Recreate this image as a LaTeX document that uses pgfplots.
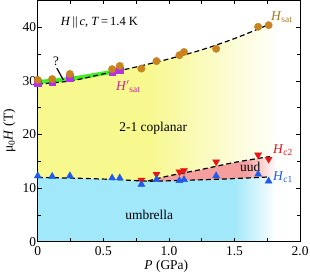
\documentclass[border=0pt]{standalone}
\usepackage{fontspec}
\setmainfont{Liberation Serif}
\usepackage{pgfplots}
\pgfplotsset{compat=1.18}
\definecolor{myyel}{RGB}{247,248,142}
\definecolor{mycyan}{RGB}{160,232,250}
\definecolor{mypink}{RGB}{244,158,158}
\definecolor{myorange}{RGB}{200,130,30}
\definecolor{mymag}{RGB}{180,50,230}
\definecolor{mytxtmag}{RGB}{200,40,150}
\definecolor{myblue}{RGB}{30,90,235}
\definecolor{myred}{RGB}{235,20,20}
\definecolor{mygreen}{RGB}{70,235,40}
\definecolor{mybrown}{RGB}{170,120,30}
\pgfdeclarehorizontalshading{yelfade}{100bp}{color(0bp)=(myyel); color(48bp)=(myyel); color(76bp)=(white); color(100bp)=(white)}
\pgfdeclarehorizontalshading{cyanfade}{100bp}{color(0bp)=(mycyan); color(66bp)=(mycyan); color(75bp)=(white); color(100bp)=(white)}
\pgfdeclarehorizontalshading{pinkfade}{100bp}{color(0bp)=(mypink); color(63bp)=(mypink); color(75bp)=(white); color(100bp)=(white)}
\begin{document}
\begin{tikzpicture}
\begin{axis}[
  scale only axis, width=262bp, height=241bp,
  xmin=0, xmax=2, ymin=0, ymax=45,
  xtick={0,0.5,1,1.5,2}, xticklabels={0,0.5,1.0,1.5,2.0},
  ytick={0,10,20,30,40},
  minor x tick num=1, minor y tick num=1,
  tick align=inside, major tick length=4bp, minor tick length=3.5bp,
  axis line style={line width=1bp},
  every tick/.style={black, line width=0.8bp},
  tick label style={font=\fontsize{13.5}{13.5}\selectfont},
  xticklabel style={inner sep=1.5bp, yshift=-3.5bp},
  yticklabel style={inner sep=1.5bp},
  label style={font=\fontsize{13.5}{13.5}\selectfont},
  xlabel={\textit{P} (GPa)},
  ylabel={μ\textsubscript{0}\textit{H} (T)},
  xlabel style={at={(axis description cs:0.49,-0.103)}, anchor=center},
  ylabel style={at={(axis description cs:-0.108,0.46)}, anchor=center},
  axis on top,
  /pgf/number format/assume math mode=true,
]
% regions
\addplot[draw=none, shade, shading=cyanfade] coordinates {
  (0,0) (0,12.0) (0.3,11.85) (0.6,11.6) (0.85,11.3) (1.1,11.45) (1.36,11.65) (1.6,11.9) (1.82,12.15) (1.82,0)} -- cycle;
\addplot[draw=none, shade, shading=pinkfade] coordinates {
  (0.82,11.3) (1.0,12.3) (1.25,13.5) (1.5,14.8) (1.82,16.1) (1.82,12.15) (1.6,11.9) (1.36,11.65) (1.1,11.45) (0.85,11.3)} -- cycle;
\addplot[draw=none, shade, shading=yelfade] coordinates {
  (0,12.0) (0,29.4) (0.25,30.0) (0.5,31.3) (0.75,32.6) (1.0,34.1) (1.25,35.8) (1.5,37.9) (1.82,41.1)
  (1.82,16.1) (1.5,14.8) (1.25,13.5) (1.0,12.3) (0.82,11.3) (0.6,11.6) (0.3,11.85)} -- cycle;
% green band
\addplot[mygreen, line width=4bp, smooth] coordinates {(0,29.8) (0.25,30.4) (0.5,31.4) (0.62,31.95)};
% dashed lines
\addplot[black, line width=1.2bp, dash pattern=on 5bp off 3bp, smooth] coordinates {
  (0,29.4) (0.25,30.0) (0.5,31.3) (0.75,32.6) (1.0,34.1) (1.25,35.8) (1.5,37.9) (1.77,40.6)};
\addplot[black, line width=1.2bp, dash pattern=on 5bp off 3bp, smooth] coordinates {
  (0,12.0) (0.3,11.85) (0.6,11.6) (0.85,11.3) (1.1,11.45) (1.36,11.65) (1.6,11.9) (1.77,12.1)};
\addplot[black, line width=1.2bp, dash pattern=on 5bp off 3bp, smooth] coordinates {
  (0.84,11.35) (1.0,12.3) (1.25,13.5) (1.5,14.8) (1.77,15.9)};
% H'sat squares
\addplot[only marks, mark=square*, mark size=3.2bp, mymag, mark options={draw=mymag, fill=mymag}] coordinates {
  (0,29.7) (0.11,29.8) (0.245,30.6) (0.567,31.7) (0.625,32.0)};
% Hsat circles
\addplot[only marks, mark=*, mark size=3.7bp, myorange, mark options={draw=myorange, fill=myorange}] coordinates {
  (0,30.2) (0.11,30.35) (0.245,31.3) (0.567,32.2) (0.625,32.8) (0.79,32.3) (0.905,33.7)
  (1.08,34.8) (1.115,35.4) (1.36,36.0) (1.68,40.1) (1.76,40.4)};
% Hc2 down triangles
\addplot[only marks, mark=triangle*, mark size=4bp, myred, mark options={rotate=180, draw=myred, fill=myred}] coordinates {
  (0.79,11.5) (0.905,12.6) (1.08,13.05) (1.115,13.3) (1.36,14.9) (1.68,16.2) (1.76,15.4)};
% Hc1 up triangles
\addplot[only marks, mark=triangle*, mark size=4bp, myblue, mark options={draw=myblue, fill=myblue}] coordinates {
  (0,12.3) (0.11,12.2) (0.245,12.3) (0.567,11.9) (0.625,11.9) (0.79,10.7) (0.905,11.6)
  (1.08,11.4) (1.115,11.6) (1.36,12.3) (1.68,12.6) (1.76,11.3)};
% annotations
\node[font=\fontsize{12.5}{12.5}\selectfont] at (axis cs:0.47,40.8) {\textit{H}\,||\,\textit{c}, \textit{T}\,=\,1.4 K};
\node[font=\fontsize{13}{13}\selectfont] at (axis cs:0.14,33.7) {?};
\draw[black, line width=1.2bp] (axis cs:0.145,32.4) -- (axis cs:0.195,30.2);
\node[font=\fontsize{13.5}{13.5}\selectfont, text=mytxtmag] at (axis cs:0.69,28.9) {\textit{H}$'$\textsubscript{sat}};
\node[font=\fontsize{13.5}{13.5}\selectfont, text=mybrown] at (axis cs:1.86,41.9) {\textit{H}\textsubscript{sat}};
\node[font=\fontsize{13.5}{13.5}\selectfont, text=myred] at (axis cs:1.87,17.1) {\textit{H}\textsubscript{c2}};
\node[font=\fontsize{13.5}{13.5}\selectfont, text=myblue] at (axis cs:1.87,12.1) {\textit{H}\textsubscript{c1}};
\node[font=\fontsize{13.5}{13.5}\selectfont] at (axis cs:1.62,13.9) {uud};
\node[font=\fontsize{13.5}{13.5}\selectfont] at (axis cs:0.85,5.0) {umbrella};
\node[font=\fontsize{13.5}{13.5}\selectfont] at (axis cs:0.88,21.2) {2-1 coplanar};
\end{axis}
\end{tikzpicture}
\end{document}
